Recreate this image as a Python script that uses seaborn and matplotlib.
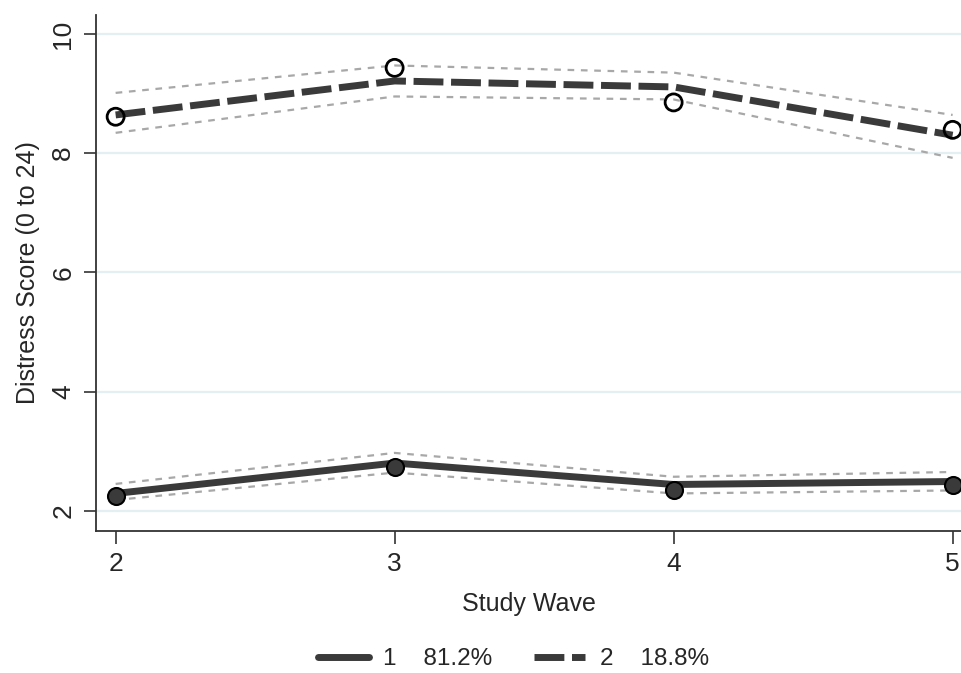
import matplotlib
matplotlib.use("Agg")
import matplotlib.pyplot as plt
import seaborn as sns
import pandas as pd
from matplotlib.lines import Line2D

# Datos
waves = [2, 3, 4, 5]

fit_c1 = [2.29, 2.80, 2.44, 2.49]
obs_c1 = [2.24, 2.74, 2.35, 2.43]
upper_c1 = [2.45, 2.97, 2.57, 2.65]
lower_c1 = [2.18, 2.64, 2.29, 2.34]

fit_c2 = [8.64, 9.21, 9.11, 8.30]
obs_c2 = [8.61, 9.43, 8.85, 8.39]
upper_c2 = [9.01, 9.47, 9.35, 8.64]
lower_c2 = [8.34, 8.95, 8.90, 7.92]

legend_labels = ["1    81.2%", "2    18.8%"]

sns.set_style("white")
plt.rcParams['font.family'] = ['Liberation Sans', 'DejaVu Sans']

line_col = '#3a3a3a'
ci_col = '#a8a8a8'
dash_main = (0, (4.3, 1.1))

fig = plt.figure(figsize=(9.61, 6.73), dpi=100)
ax = fig.add_axes([0.1, 0.211, 0.9, 0.767])

for yv in [2, 4, 6, 8, 10]:
    ax.axhline(yv, color='#e3eff2', lw=1.6, zorder=0)

# Intervalos de confianza
for ci in [upper_c1, lower_c1, upper_c2, lower_c2]:
    sns.lineplot(x=waves, y=ci, ax=ax, color=ci_col, lw=1.6,
                 linestyle=(0, (3, 3)), zorder=2)

# Trayectorias estimadas
sns.lineplot(x=waves, y=fit_c1, ax=ax, color=line_col, lw=5, zorder=3)
sns.lineplot(x=waves, y=fit_c2, ax=ax, color=line_col, lw=5,
             linestyle=dash_main, zorder=3)

# Valores observados
sns.scatterplot(x=waves, y=obs_c1, ax=ax, s=150, color=line_col,
                edgecolor='black', linewidth=1.5, zorder=4)
sns.scatterplot(x=waves, y=obs_c2, ax=ax, s=150, facecolor='none',
                edgecolor='black', linewidth=2, zorder=4)

ax.set_xlim(1.93, 5.03)
ax.set_ylim(1.66, 10.32)
ax.set_xticks(waves)
ax.set_yticks([2, 4, 6, 8, 10])
ax.tick_params(axis='both', direction='out', length=9, width=1.2,
               color='#333333', labelsize=19, pad=6, bottom=True, left=True)
for lab in ax.get_yticklabels():
    lab.set_rotation(90)
    lab.set_va('center')

for s in ['top', 'right']:
    ax.spines[s].set_visible(False)
for s in ['left', 'bottom']:
    ax.spines[s].set_color('#333333')
    ax.spines[s].set_linewidth(1.3)

ax.set_xlabel('Study Wave', fontsize=18, labelpad=12)
ax.set_ylabel('Distress Score (0 to 24)', fontsize=18, labelpad=8)

handles = [Line2D([], [], color=line_col, lw=5),
           Line2D([], [], color=line_col, lw=5, linestyle=dash_main)]
fig.legend(handles, legend_labels, loc='lower center', ncol=2,
           frameon=False, fontsize=17.5, bbox_to_anchor=(0.534, -0.021),
           borderpad=0.2, handlelength=2.1, handletextpad=0.6,
           columnspacing=1.7)

fig.savefig('out.png', dpi=100)
